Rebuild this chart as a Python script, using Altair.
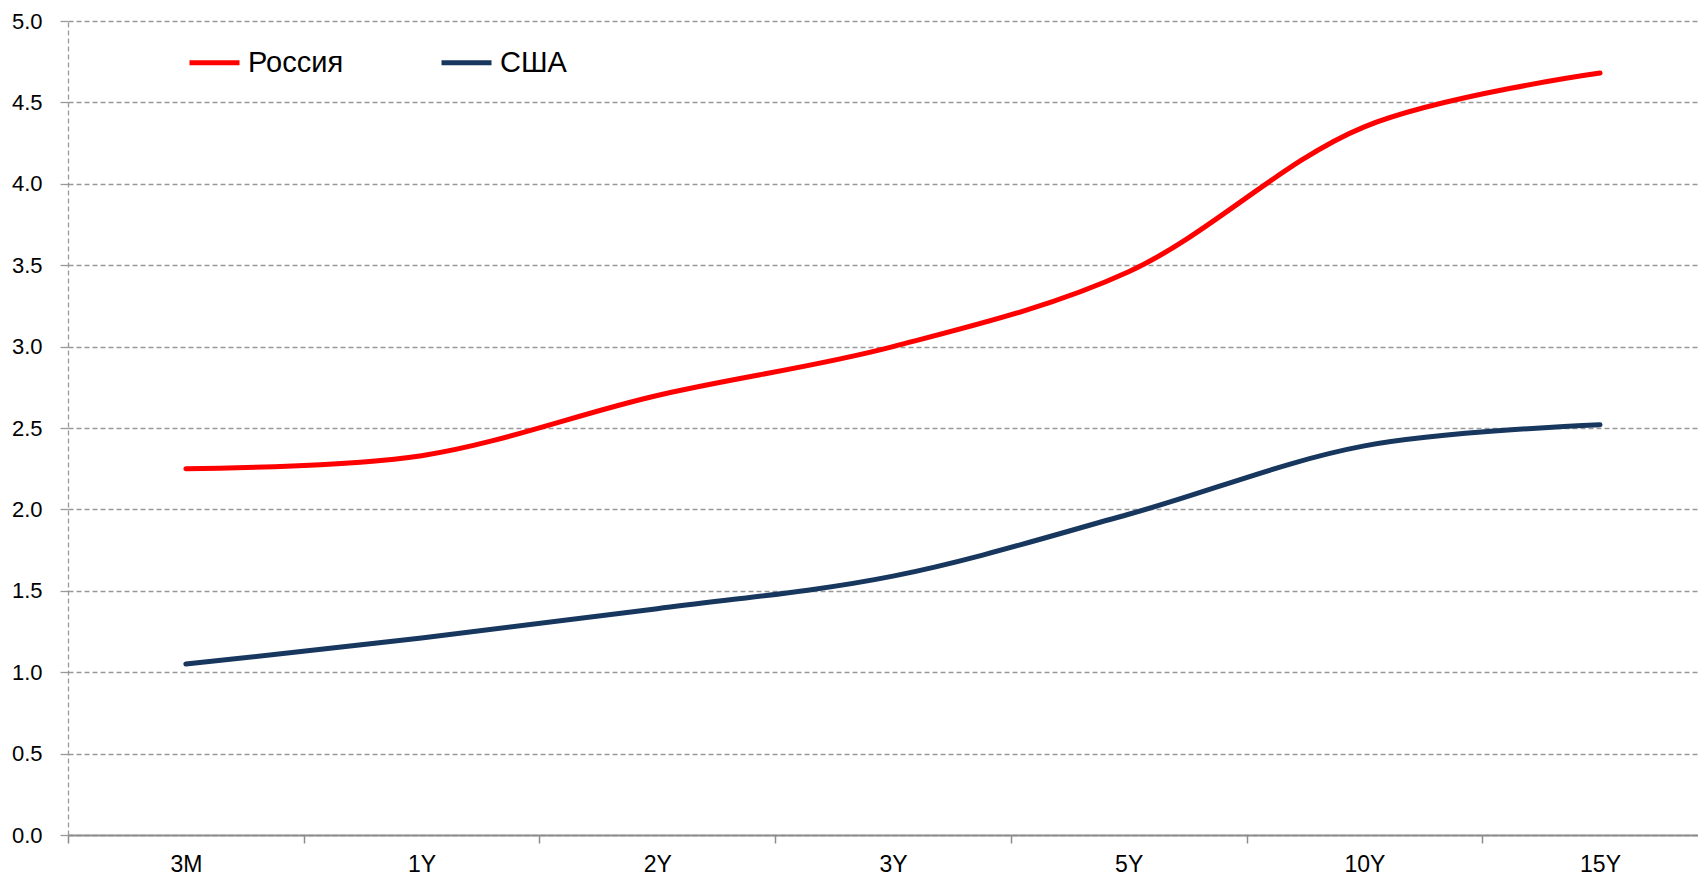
import altair as alt
import pandas as pd

tenors = ["3M", "1Y", "2Y", "3Y", "5Y", "10Y", "15Y"]
russia = [2.25, 2.33, 2.70, 3.00, 3.46, 4.35, 4.68]
usa = [1.05, 1.21, 1.39, 1.59, 1.97, 2.39, 2.52]
series_names = ["Россия", "США"]
series_colors = ["#FF0000", "#17375E"]

rows = []
for name, vals in zip(series_names, [russia, usa]):
    for i, (t, v) in enumerate(zip(tenors, vals)):
        rows.append({"series": name, "tenor": t, "pos": i + 0.5, "value": v})
df = pd.DataFrame(rows)

FONT = "Liberation Sans Narrow, Arial Narrow, Liberation Sans, Arial, sans-serif"
W = 1630
STEP = 235.7
label_expr = "[" + ",".join("'%s'" % t for t in tenors) + "][datum.value]"

chart = alt.Chart(df).mark_line(
    strokeWidth=5, strokeCap="round", interpolate="catmull-rom"
).encode(
    x=alt.X(
        "pos:Q",
        scale=alt.Scale(domain=[0, W / STEP], nice=False, zero=False),
        axis=alt.Axis(
            values=list(range(len(tenors))),
            labelExpr=label_expr,
            labelOffset=STEP / 2,
            title=None,
            grid=False,
            domainColor="#8c8c8c",
            domainWidth=2,
            tickColor="#8c8c8c",
            tickWidth=1.5,
            tickSize=8,
            labelFontSize=23,
            labelFont=FONT,
            labelColor="#000000",
            labelPadding=10,
            labelFlush=False,
            labelOverlap=False,
        ),
    ),
    y=alt.Y(
        "value:Q",
        scale=alt.Scale(domain=[0, 5], nice=False),
        axis=alt.Axis(
            values=[0, 0.5, 1, 1.5, 2, 2.5, 3, 3.5, 4, 4.5, 5],
            format=".1f",
            title=None,
            grid=True,
            gridColor="#999999",
            gridDash=[5, 3],
            gridWidth=1.3,
            domainColor="#999999",
            domainDash=[5, 3],
            domainWidth=1.3,
            tickColor="#999999",
            tickSize=8,
            tickWidth=1.3,
            labelFontSize=22,
            labelFont=FONT,
            labelColor="#000000",
            labelPadding=18,
        ),
    ),
    color=alt.Color(
        "series:N",
        scale=alt.Scale(domain=series_names, range=series_colors),
        sort=series_names,
        legend=alt.Legend(
            title=None,
            orient="none",
            legendX=119,
            legendY=14,
            direction="horizontal",
            symbolType="stroke",
            symbolSize=2500,
            symbolStrokeWidth=5,
            labelFontSize=29,
            labelFont=FONT,
            labelColor="#000000",
            labelOffset=6,
            columnPadding=87,
            labelLimit=400,
        ),
    ),
).properties(
    width=W,
    height=814,
    padding={"left": 60, "top": 13, "right": 0, "bottom": 42},
    autosize=alt.AutoSizeParams(type="none"),
).configure_view(stroke=None)

chart.save("out.html", embed_options={"renderer": "svg", "actions": False})
